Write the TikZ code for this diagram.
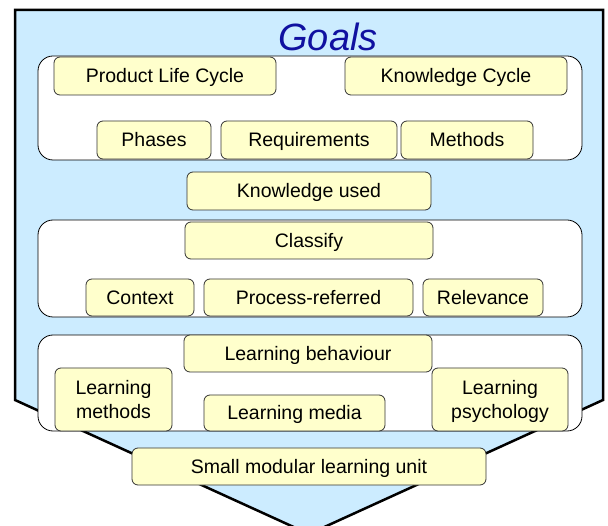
\documentclass[tikz,border=0pt]{standalone}
\usepackage{fontspec}
\setmainfont{Liberation Sans}
\usepackage{tikz}

\definecolor{goalblue}{RGB}{204,236,255}
\definecolor{itemyellow}{RGB}{255,255,204}
\definecolor{titleblue}{RGB}{16,16,160}

\begin{document}
\begin{tikzpicture}[x=1pt, y=-1pt,
    group/.style={draw=black, line width=0.8pt, fill=white, rounded corners=15pt, minimum width=544pt, inner sep=0pt},
    item/.style={draw=black!80, line width=0.8pt, fill=itemyellow, rounded corners=6pt, minimum height=38pt, inner sep=0pt, align=center, text height=14pt, text depth=0pt, font=\fontsize{19.5}{24}\selectfont},
    twoline/.style={item, minimum height=63pt, text height=38pt, text depth=0pt}]

    \useasboundingbox (0, 0) rectangle (608, 526);

    % Goals arrow
    \fill[goalblue, draw=black, line width=2.5pt] (15, 10) -- (603, 10) -- (603, 400) -- (309, 534) -- (15, 400) -- cycle;
    \node[text=titleblue, inner sep=0pt, text height=27pt, text depth=0pt, font=\fontsize{38}{38}\selectfont\itshape] (Goals) at (328, 37) {Goals};

    % Groups
    \node[group, minimum height=104pt] (Cycles) at (310, 108) {};
    \node[group, minimum height=97pt] (Classes) at (310, 268.5) {};
    \node[group, minimum height=96pt] (Learning) at (310, 383) {};

    % Cycles
    \node[item, minimum width=222pt] (Product) at (165, 76) {Product Life Cycle};
    \node[item, minimum width=222pt] (Knowledge) at (456, 76) {Knowledge Cycle};
    \node[item, minimum width=114pt] (Phases) at (154, 140) {Phases};
    \node[item, minimum width=176pt] (Requirements) at (309, 140) {Requirements};
    \node[item, minimum width=132pt] (Methods) at (467, 140) {Methods};

    % Knowledge used
    \node[item, minimum width=244pt] (Used) at (309, 191) {Knowledge used};

    % Classify
    \node[item, minimum width=248pt, minimum height=37pt] (Classify) at (309, 240.5) {Classify};
    \node[item, minimum width=108pt, minimum height=37pt] (Context) at (140, 297.5) {Context};
    \node[item, minimum width=209pt, minimum height=37pt] (Process) at (308.5, 297.5) {Process-referred};
    \node[item, minimum width=120pt, minimum height=37pt] (Relevance) at (483, 297.5) {Relevance};

    % Learning
    \node[item, minimum width=248pt, minimum height=37pt] (Behaviour) at (308, 353.5) {Learning behaviour};
    \node[twoline, minimum width=117pt] (LMethods) at (113.5, 399.5) {Learning\\methods};
    \node[item, minimum width=181pt, minimum height=36pt] (Media) at (294.5, 413) {Learning media};
    \node[twoline, minimum width=136pt] (Psychology) at (500, 399.5) {Learning\\psychology};

    % Small modular learning unit
    \node[item, minimum width=354pt, minimum height=37pt] (Unit) at (309, 466.5) {Small modular learning unit};

\end{tikzpicture}
\end{document}
